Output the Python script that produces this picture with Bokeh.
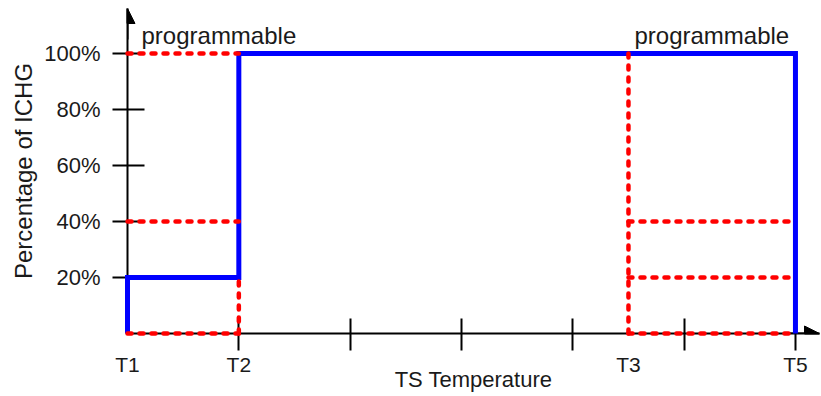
from bokeh.plotting import figure
from bokeh.models import Range1d, FixedTicker, Arrow, NormalHead, ColumnDataSource
from bokeh.core.properties import value
from bokeh.embed import file_html
from bokeh.resources import INLINE

# ---- data ----
t_names = ["T1", "T2", "T3", "T5"]
t_pos = [0, 1, 4.5, 6]
x_minor_ticks = [1, 2, 3, 4, 5, 6]
y_ticks = [20, 40, 60, 80, 100]
y_tick_labels = ["20%", "40%", "60%", "80%", "100%"]

# default charge profile (blue)
profile_x = [0, 0, 1, 1, 6, 6]
profile_y = [0, 20, 20, 100, 100, 0]

# programmable options (red dashed)
prog_x0 = [0, 0, 0, 1, 4.5, 4.5, 4.5, 4.5]
prog_x1 = [1, 1, 1, 1, 4.5, 6, 6, 6]
prog_y0 = [100, 40, 0, 0, 0, 40, 20, 0]
prog_y1 = [100, 40, 0, 20, 100, 40, 20, 0]

note_x = [0, 4.5]
note_y = [100, 100]
note_text = ["programmable", "programmable"]

X_MAX = 6.216
Y_MAX = 116.07

FONT = "Liberation Sans"
TXT = "#1a1a1a"

p = figure(width=820, height=395, x_range=Range1d(0, X_MAX), y_range=Range1d(0, Y_MAX),
           output_backend="svg", toolbar_location=None,
           min_border_left=127, min_border_right=1, min_border_top=8, min_border_bottom=62)
p.outline_line_color = None
p.grid.visible = False

# axes
xa = p.xaxis[0]
xa.ticker = FixedTicker(ticks=t_pos, minor_ticks=x_minor_ticks)
xa.major_label_overrides = {k: v for k, v in zip(t_pos, t_names)}
xa.major_tick_in = 0
xa.major_tick_out = 0
xa.minor_tick_in = 15
xa.minor_tick_out = 17
xa.minor_tick_line_width = 2
xa.minor_tick_line_color = "black"
xa.axis_line_width = 2
xa.axis_line_color = "black"
xa.major_label_standoff = 2
xa.major_label_text_font = FONT
xa.major_label_text_font_size = "21px"
xa.major_label_text_color = TXT
xa.axis_label = "TS Temperature"
xa.axis_label_text_font = FONT
xa.axis_label_text_font_size = "22px"
xa.axis_label_text_font_style = "normal"
xa.axis_label_text_color = TXT
xa.axis_label_standoff = -12

ya = p.yaxis[0]
ya.ticker = FixedTicker(ticks=y_ticks)
ya.major_label_overrides = {k: v for k, v in zip(y_ticks, y_tick_labels)}
ya.major_tick_in = 17
ya.major_tick_out = 15
ya.major_tick_line_width = 2
ya.major_tick_line_color = "black"
ya.minor_tick_line_color = None
ya.axis_line_width = 2
ya.axis_line_color = "black"
ya.major_label_standoff = 12
ya.major_label_text_font = FONT
ya.major_label_text_font_size = "22px"
ya.major_label_text_color = TXT
ya.axis_label = "Percentage of ICHG"
ya.axis_label_text_font = FONT
ya.axis_label_text_font_size = "24px"
ya.axis_label_text_font_style = "normal"
ya.axis_label_text_color = TXT
ya.axis_label_standoff = 4

# arrow heads
p.add_layout(Arrow(end=NormalHead(size=15, fill_color="black", line_color="black"),
                   x_start=5.9, y_start=0, x_end=X_MAX, y_end=0, line_width=2, line_color="black"))
p.add_layout(Arrow(end=NormalHead(size=15, fill_color="black", line_color="black"),
                   x_start=0, y_start=105, x_end=0, y_end=Y_MAX, line_width=2, line_color="black"))

# blue profile
p.line(profile_x, profile_y, line_color="#0000ff", line_width=5, line_join="miter",
       level="overlay")

# red dashed programmable levels
src = ColumnDataSource(dict(x0=prog_x0, x1=prog_x1, y0=prog_y0, y1=prog_y1))
p.segment("x0", "y0", "x1", "y1", source=src, line_color="#ff0000", line_width=4.5,
          line_dash="4 8", line_cap="round", level="overlay")

# notes
p.text(note_x, note_y, text=note_text, x_offset=[14, 6], y_offset=-18,
       text_font=value(FONT), text_font_size="24px", text_color=TXT,
       text_baseline="alphabetic", text_align="left")

open("out.html", "w").write(file_html(p, INLINE))
